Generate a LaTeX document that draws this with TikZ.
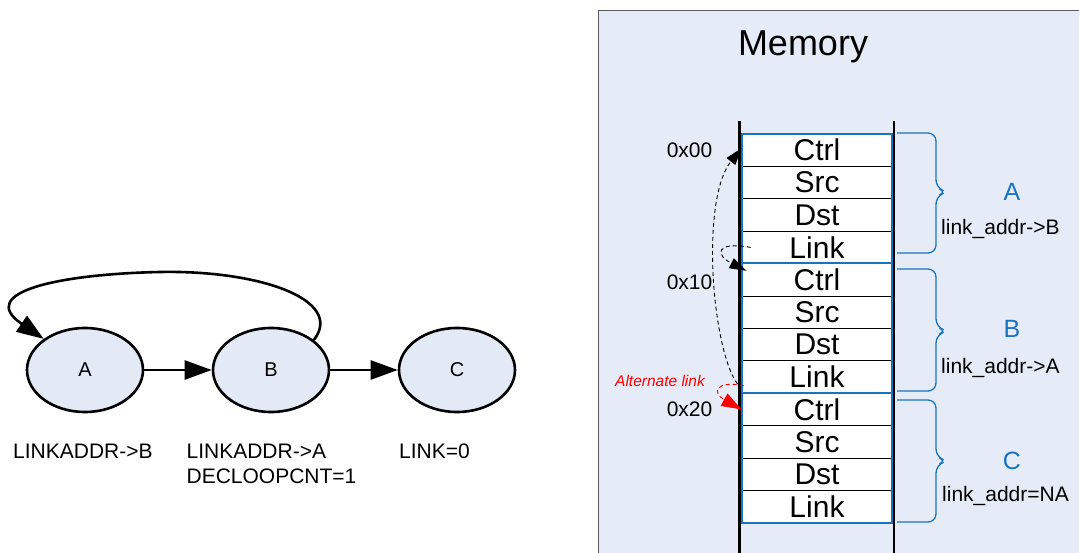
\documentclass[tikz,border=0pt]{standalone}
\usepackage{fontspec}
\setmainfont{Liberation Sans}
\usepackage{tikz}
\usetikzlibrary{arrows.meta}
\usetikzlibrary{calc}
\usetikzlibrary{positioning}
\usetikzlibrary{shapes}

\definecolor{panelbg}{HTML}{E6ECF7}
\definecolor{nodebg}{HTML}{E3EAF6}
\definecolor{memblue}{HTML}{1A73BD}
\definecolor{panelgray}{HTML}{5A5A5A}
\newcommand{\fsz}[1]{\fontsize{#1}{#1}\selectfont}

\begin{document}
\begin{tikzpicture}[x=1pt,y=-1pt,node distance=186pt,
    state/.style={draw,ellipse,line width=2.6pt,fill=nodebg,minimum width=116pt,minimum height=84pt,font=\fsz{20}},
    edge/.style={line width=2.6pt,-{Triangle[length=27pt,width=19pt]}},
    lbl/.style={font=\fsz{21},inner sep=0pt},
    field/.style={draw,line width=0.9pt,fill=white,minimum width=150pt,minimum height=32.4pt,inner sep=0pt,font=\fsz{30}},
    blockframe/.style={draw=memblue,line width=2pt},
    brc/.style={draw=memblue,line width=1.3pt,rounded corners=8pt},
    dlink/.style={line width=0.9pt,dash pattern=on 4pt off 3pt,-{Triangle[length=17pt,width=11pt]}}]
      \useasboundingbox (0,0) rectangle (1079,553);
      % memory panel
      \draw[panelgray,fill=panelbg,line width=0.8pt] (598,10) rectangle (1090,570);
      \node[font=\fsz{36}] (memTitle) at (803,47) {Memory};

      % graph
      \node[state] (A) at (85,370) {A};
      \node[state,right of=A] (B) {B};
      \node[state,right of=B] (C) {C};
      \draw[edge] (A) -- (B);
      \draw[edge] (B) -- (C);
      \draw[edge] (B.35) .. controls (345,300) and (260,270) .. (160,272)
                          .. controls (60,274) and (-25,292) .. (A.143);
      \node[lbl,anchor=west] (linkA) at (13,451) {LINKADDR->B};
      \node[lbl,align=left,font=\fontsize{21}{25}\selectfont] (linkB) at (271.5,463.5) {LINKADDR->A\\DECLOOPCNT=1};
      \node[lbl,anchor=west] (linkC) at (399,451) {LINK=0};

      % descriptors
      \foreach \blk/\top in {A/134,B/263.6,C/393.2}{
        \foreach \fld [count=\i from 0] in {Ctrl,Src,Dst,Link}
          \node[field] (\fld\blk) at (817,\top+16.2+\i*32.4) {\fld};
        \draw[blockframe] (Ctrl\blk.north west) rectangle (Link\blk.south east);
      }
      \draw[line width=2.6pt] (739.5,121) -- (739.5,560);
      \draw[line width=2.6pt] (894,121) -- (894,560);

      \foreach \blk/\yt/\ym/\yb in {A/133/192/253,B/269/331/391,C/400/461/522}
        \draw[brc] (897,\yt) -- (936,\yt) -- (936,\ym-4) -- (947,\ym) -- (936,\ym+4) -- (936,\yb) -- (897,\yb);
      \node[font=\fsz{25},text=memblue] (nameA) at (1012,192) {A};
      \node[font=\fsz{25},text=memblue] (nameB) at (1012,329) {B};
      \node[font=\fsz{25},text=memblue] (nameC) at (1012,461) {C};
      \node[lbl,anchor=west] (addrA) at (941,229) {link\_addr->B};
      \node[lbl,anchor=west] (addrB) at (941,368) {link\_addr->A};
      \node[lbl,anchor=west] (addrC) at (942,496) {link\_addr=NA};

      \node[lbl,left=29pt of CtrlA.west] (offA) {0x00};
      \node[lbl,left=29pt of CtrlB.west,yshift=-2pt] (offB) {0x10};
      \node[lbl,left=29pt of CtrlC.west] (offC) {0x20};

      % links
      \draw[dlink] ([xshift=9pt]LinkA.west) .. controls (715,241) and (715,255) .. ([xshift=5pt,yshift=9pt]CtrlB.west);
      \draw[dlink] ([xshift=-4pt,yshift=-7pt]LinkB.west) .. controls (712,350) and (700,200) .. ([yshift=2pt]CtrlA.west);
      \draw[dlink,red,-{Triangle[length=20pt,width=14pt]}] ([xshift=2pt,yshift=8pt]LinkB.south west) .. controls (715,380) and (712,393) .. (CtrlC.west);
      \node[font=\fsz{15.5}\itshape,text=red,inner sep=0pt] (altLink) at (660,381) {Alternate link};
\end{tikzpicture}
\end{document}
